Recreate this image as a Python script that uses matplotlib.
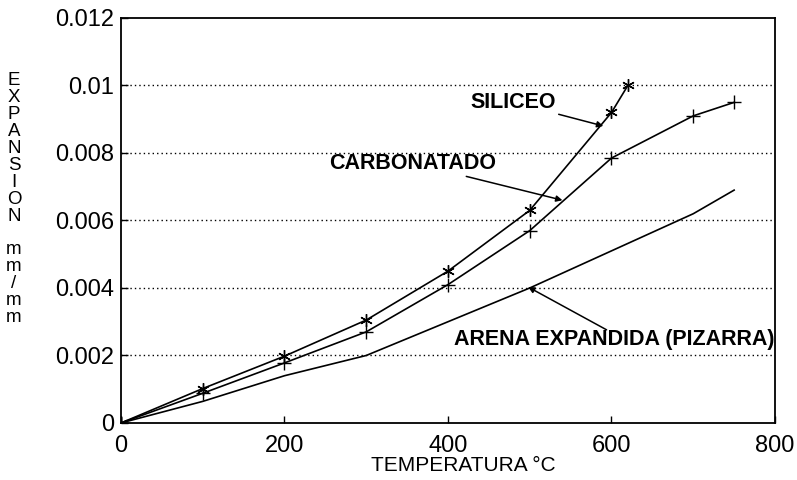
import matplotlib
matplotlib.use("Agg")
import matplotlib.pyplot as plt

plt.rcParams['font.family'] = ['Liberation Sans', 'DejaVu Sans']

# thermal expansion (mm/mm) vs temperature (C)
temp_siliceo = [0, 100, 200, 300, 400, 500, 600, 620]
exp_siliceo = [0, 0.00102, 0.00198, 0.00305, 0.0045, 0.0063, 0.0092, 0.0100]

temp_carbon = [0, 100, 200, 300, 400, 500, 600, 700, 750]
exp_carbon = [0, 0.00088, 0.00178, 0.0027, 0.0041, 0.0057, 0.00785, 0.0091, 0.0095]

temp_arena = [0, 100, 200, 300, 400, 500, 600, 700, 750]
exp_arena = [0, 0.00064, 0.0014, 0.0020, 0.0030, 0.0040, 0.0051, 0.0062, 0.0069]

xticks = [0, 200, 400, 600, 800]
yticks = [0, 0.002, 0.004, 0.006, 0.008, 0.01, 0.012]
ytick_labels = ["0", "0.002", "0.004", "0.006", "0.008", "0.01", "0.012"]

fig = plt.figure(figsize=(7.97, 4.80), dpi=100)
ax = fig.add_axes([0.1518, 0.1188, 0.8206, 0.8437])

for y in yticks[1:-1]:
    ax.axhline(y, color='black', linestyle=(0, (1, 2.2)), linewidth=1.0, zorder=1)

ax.plot(temp_siliceo, exp_siliceo, color='black', linewidth=1.2,
        marker=(6, 2, 0), markersize=9, markeredgewidth=1.0, zorder=3)
ax.plot(temp_carbon, exp_carbon, color='black', linewidth=1.2,
        marker='+', markersize=10, markeredgewidth=1.0, zorder=3)
ax.plot(temp_arena, exp_arena, color='black', linewidth=1.2, zorder=3)

ax.set_xlim(0, 800)
ax.set_ylim(0, 0.012)
ax.set_xticks(xticks)
ax.set_yticks(yticks)
ax.set_yticklabels(ytick_labels)
ax.tick_params(direction='in', length=5, width=1, labelsize=17)
ax.tick_params(axis='x', pad=9)
ax.tick_params(axis='y', pad=5)
for s in ax.spines.values():
    s.set_linewidth(1.3)

arrow = dict(arrowstyle='-|>', color='black', lw=1.1, mutation_scale=9,
             shrinkA=0, shrinkB=0)
lab = dict(fontsize=15.5, fontweight='bold', ha='right', va='center')

ax.annotate("SILICEO", xy=(590, 0.0088), xytext=(532, 0.0095),
            arrowprops=arrow, **lab)
ax.annotate("CARBONATADO", xy=(540, 0.0066), xytext=(459, 0.0077),
            arrowprops=arrow, **lab)
ax.text(799, 0.00246, "ARENA EXPANDIDA (PIZARRA)", **lab)
ax.annotate("", xy=(498, 0.00403), xytext=(594, 0.00276), arrowprops=arrow)

fig.text(0.5815, 0.031, "TEMPERATURA °C", fontsize=15, ha='center', va='center')
fig.text(0.0176, 0.69, "\n".join("EXPANSION"), fontsize=13.5, ha='center',
         va='center', linespacing=1.0)
fig.text(0.0176, 0.41, "\n".join("mm/mm"), fontsize=13.5, ha='center',
         va='center', linespacing=1.0)

fig.savefig("out.png", dpi=100)
